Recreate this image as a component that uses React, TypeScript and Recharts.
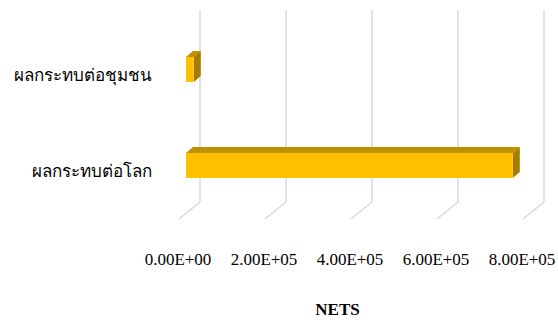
import React from 'react';
import { BarChart, Bar, XAxis, YAxis, CartesianGrid } from 'recharts';

const categories = ['ผลกระทบต่อชุมชน', 'ผลกระทบต่อโลก'];
const netsValues = [1.8e4, 7.6e5];
const xTicks = [0, 2e5, 4e5, 6e5, 8e5];

const data = categories.map((name, i) => ({ name, value: netsValues[i] }));

const FONT = '"Times New Roman", "Liberation Serif", serif';

// 3D offsets: back wall relative to front plane, bar front face and bar depth
const WALL_DX = 21;
const WALL_DY = 17;
const BAR_DX = 7;
const BAR_DY = 6;

const formatSci = (v: number) => {
  const [m, e] = v.toExponential(2).split('e');
  const sign = e[0] === '-' ? '-' : '+';
  const digits = e.replace(/[+-]/, '').padStart(2, '0');
  return `${m}E${sign}${digits}`;
};

const Bar3D = (props: any) => {
  const { x, y, width, height } = props;
  const fx = x + BAR_DX;
  const fy = y - BAR_DY;
  const w = Math.max(width, 0);
  const top = `${fx},${fy} ${fx + BAR_DX},${fy - BAR_DY} ${fx + w + BAR_DX},${fy - BAR_DY} ${fx + w},${fy}`;
  const side = `${fx + w},${fy} ${fx + w + BAR_DX},${fy - BAR_DY} ${fx + w + BAR_DX},${fy + height - BAR_DY} ${fx + w},${fy + height}`;
  return (
    <g>
      <polygon points={top} fill="#C09000" />
      <polygon points={side} fill="#A67C00" />
      <rect x={fx} y={fy} width={w} height={height} fill="#FFC000" />
    </g>
  );
};

const gridLine = (props: any) => {
  const { x1, y1, y2, key } = props;
  const bx = x1 + WALL_DX;
  return (
    <g key={key}>
      <line x1={bx} y1={y1 - WALL_DY} x2={bx} y2={y2 - WALL_DY} stroke="#D9D9D9" strokeWidth={1.5} />
      <line x1={bx} y1={y2 - WALL_DY} x2={x1} y2={y2} stroke="#D9D9D9" strokeWidth={1.5} />
    </g>
  );
};

const XTick = (props: any) => {
  const { x, payload } = props;
  return (
    <text x={x - 1} y={265} textAnchor="middle" fontFamily={FONT} fontSize={17} fill="#000">
      {formatSci(payload.value)}
    </text>
  );
};

const YTick = (props: any) => {
  const { y, payload } = props;
  return (
    <text x={152} y={y + 6} textAnchor="end" fontFamily={FONT} fontSize={17} fill="#000">
      {payload.value}
    </text>
  );
};

export default function App() {
  return (
    <div style={{ position: 'absolute', left: 0, top: 0, width: 558, height: 320, background: '#fff' }}>
      <BarChart
        width={558}
        height={320}
        data={data}
        layout="vertical"
        margin={{ top: 27, right: 35, left: 0, bottom: 0 }}
        barSize={25}
        style={{ overflow: 'visible' }}
      >
        <CartesianGrid horizontal={false} vertical={gridLine} />
        <XAxis
          type="number"
          domain={[0, 8e5]}
          ticks={xTicks}
          axisLine={false}
          tickLine={false}
          height={101}
          tick={<XTick />}
          interval={0}
        />
        <YAxis
          type="category"
          dataKey="name"
          width={179}
          axisLine={false}
          tickLine={false}
          tick={<YTick />}
        />
        <Bar dataKey="value" shape={<Bar3D />} isAnimationActive={false} />
      </BarChart>
      <div
        style={{
          position: 'absolute',
          left: 0,
          top: 300,
          width: 675,
          textAlign: 'center',
          fontFamily: FONT,
          fontSize: 17,
          fontWeight: 'bold',
          lineHeight: '20px',
        }}
      >
        NETS
      </div>
    </div>
  );
}
